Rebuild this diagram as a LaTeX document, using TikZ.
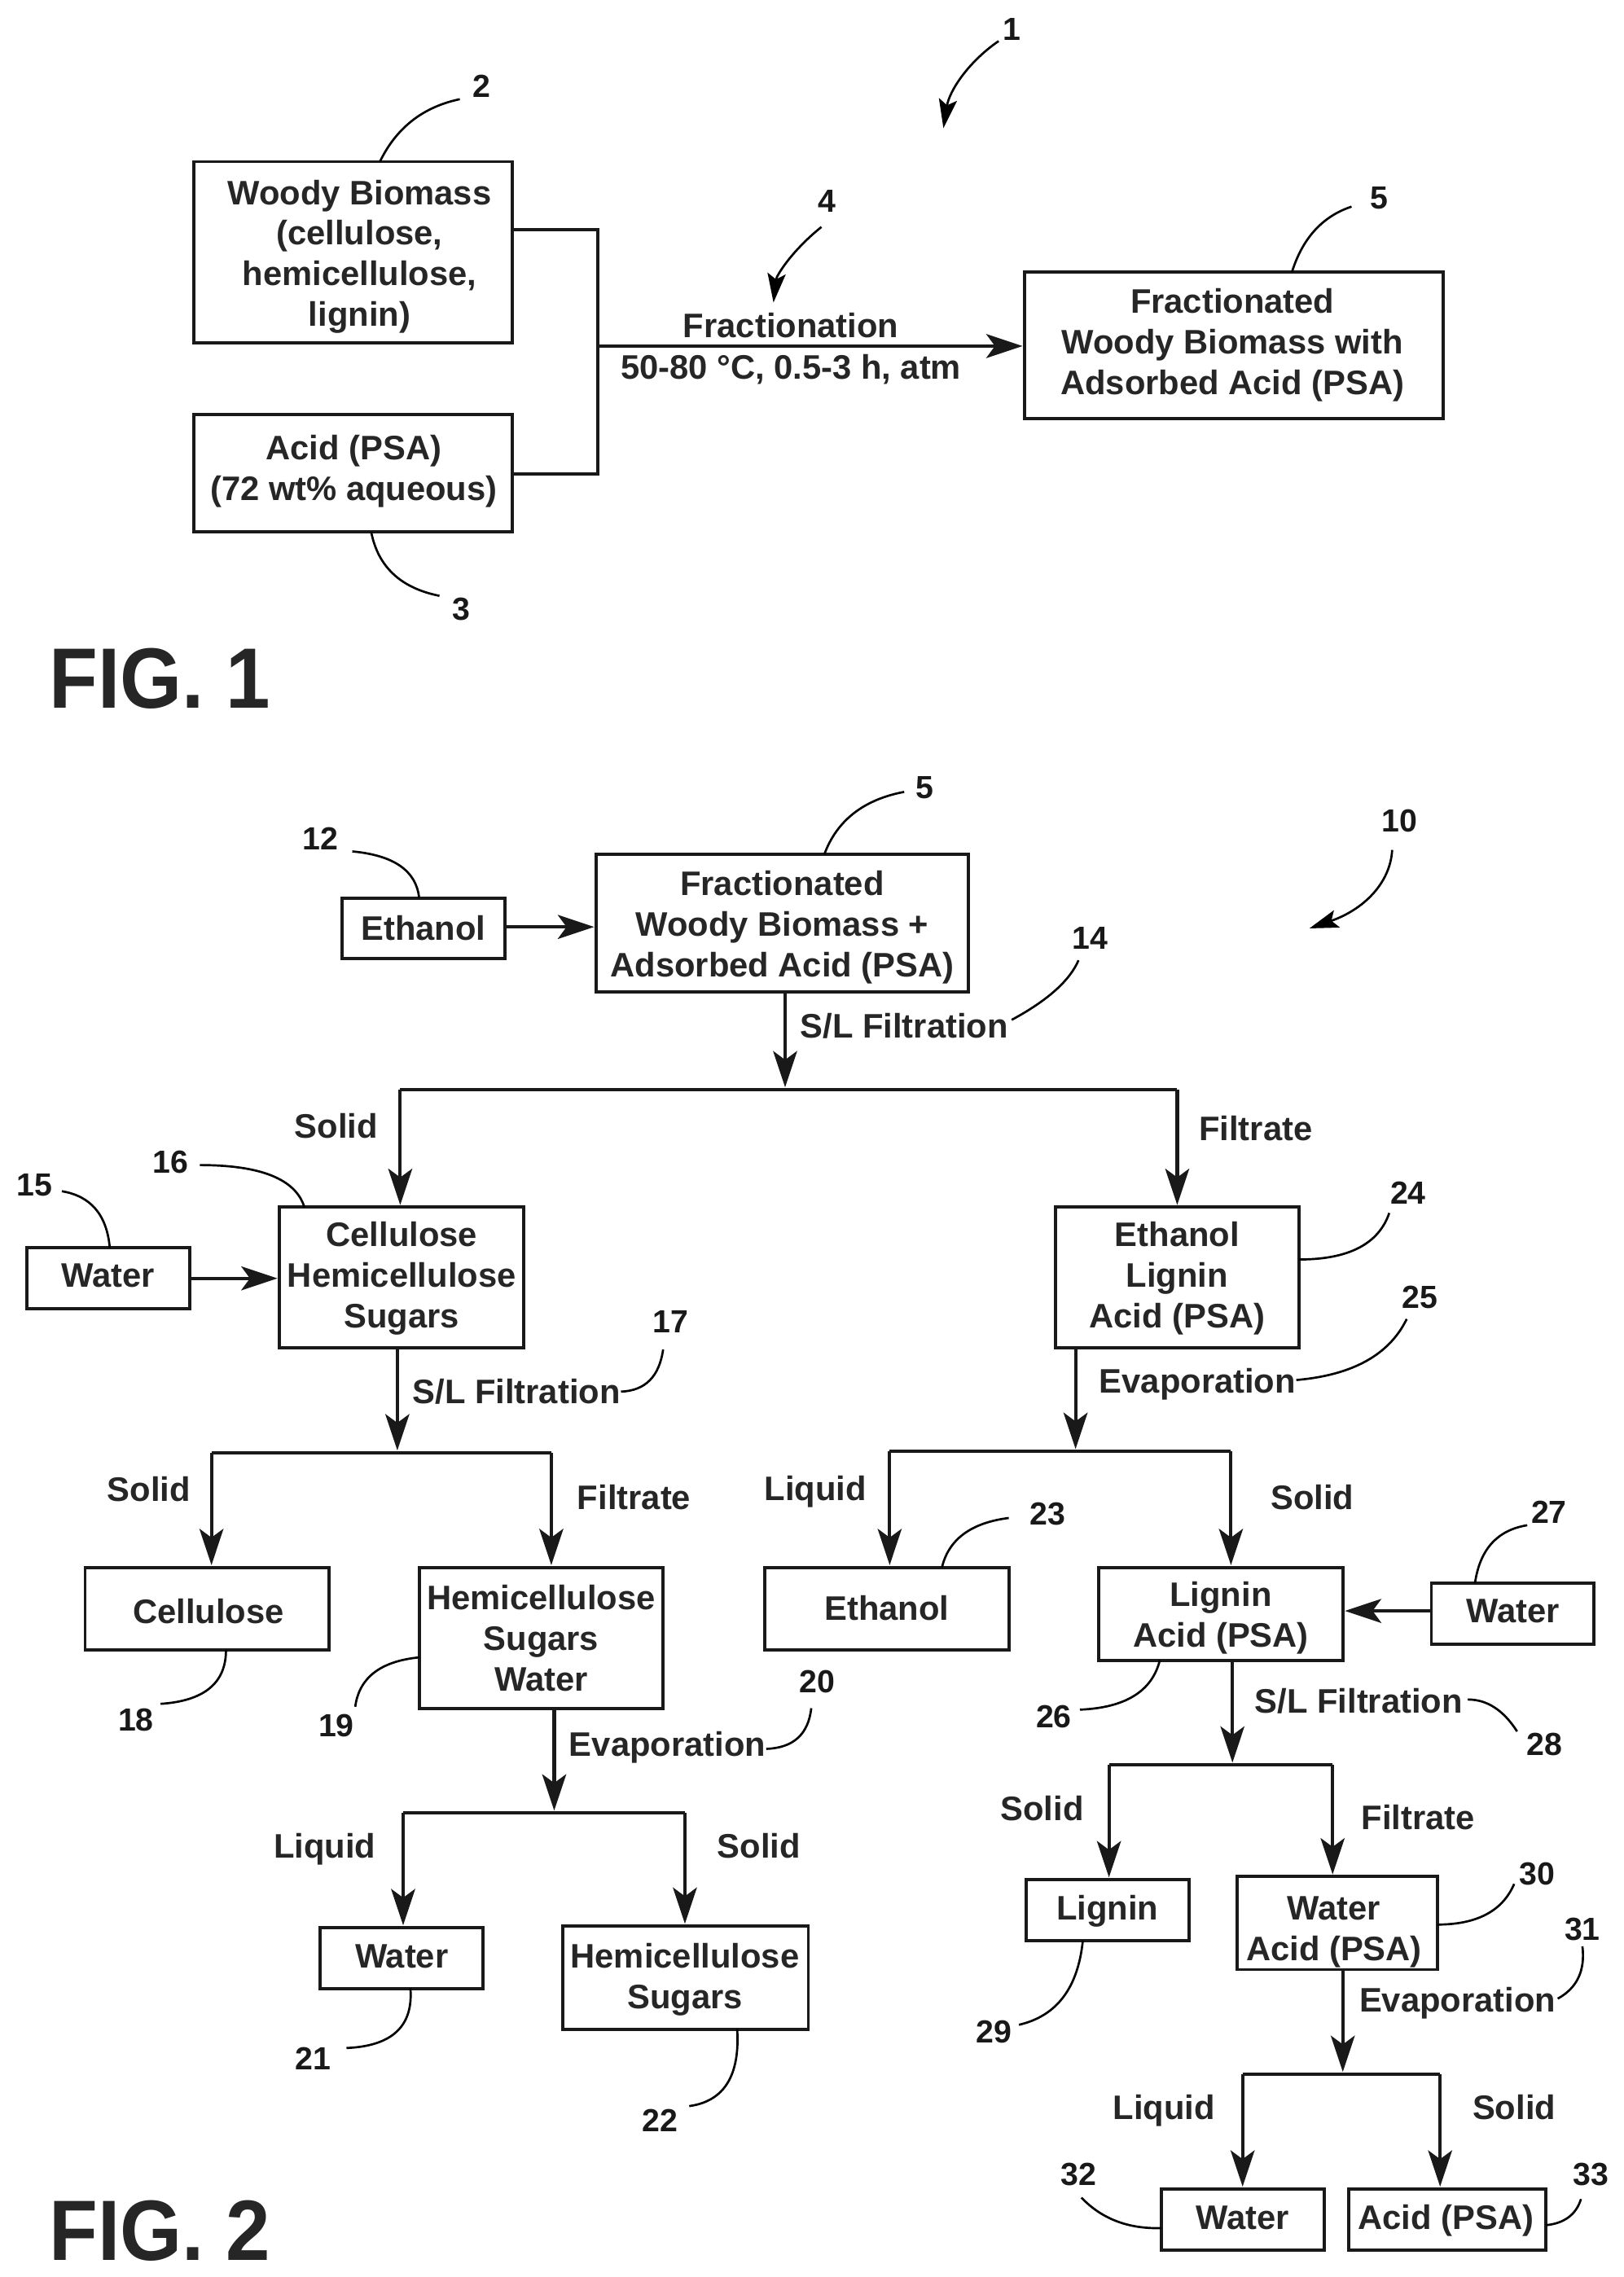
\documentclass[tikz,border=0pt]{standalone}
\usepackage{fontspec}
\setmainfont{Liberation Sans}
\usetikzlibrary{arrows.meta,calc}
\tikzset{
  boxs/.style={draw=black!90,line width=2.2pt,inner sep=0pt,outer sep=0pt,fill=none},
  txt/.style={font=\fontsize{23.4}{28}\selectfont\bfseries,align=center,inner sep=0pt,text=black!85},
  num/.style={font=\fontsize{22}{26}\selectfont\bfseries,inner sep=0pt,text=black!90},
  figl/.style={font=\fontsize{59}{60}\selectfont\bfseries,inner sep=0pt,anchor=west,text=black!85,xscale=0.93},
  conn/.style={line width=2.3pt,draw=black!90},
  arr/.style={conn,-{Stealth[length=25pt,width=16.5pt,inset=6pt]},shorten >=1.5pt},
  lead/.style={line width=1.5pt,draw=black},
  leadarr/.style={lead,-{Stealth[length=20pt,width=12.5pt,inset=4pt]}}
}
\newcommand{\bx}[8]{%
  \pgfmathsetmacro{\bw}{#4-#2}\pgfmathsetmacro{\bh}{#5-#3}%
  \pgfmathsetmacro{\bcx}{(#2+#4)/2}\pgfmathsetmacro{\bcy}{(#3+#5)/2}%
  \node[boxs,minimum width=\bw pt,minimum height=\bh pt] (#1) at (\bcx,\bcy) {};
  \node[txt] (#1t) at (#6,#7) {#8};
}
% number, label x, y, start, control, end, style
\newcommand{\ld}[7][lead]{%
  \node[num] (n#2) at (#3,#4) {#2};
  \coordinate (s#2) at #5;
  \coordinate (c#2) at #6;
  \coordinate (e#2) at #7;
  \draw[#1] (s#2) .. controls ($(s#2)!0.667!(c#2)$) and ($(e#2)!0.667!(c#2)$) .. (e#2);
}
\begin{document}
\begin{tikzpicture}[x=1pt,y=-1pt]
\useasboundingbox[fill=white] (-0.6,-0.3) rectangle (1117.6,1567.7);
% boxes
\bx{wb}{133}{111}{352}{236}{247}{176.5}{Woody Biomass\\(cellulose,\\hemicellulose,\\lignin)}
\bx{acid}{133}{285}{352}{366}{243}{324}{Acid (PSA)\\(72 wt\% aqueous)}
\bx{frac}{705}{187}{993}{288}{848}{237.5}{Fractionated\\Woody Biomass with\\Adsorbed Acid (PSA)}
\bx{etha}{235}{618}{347}{660}{291}{638.5}{Ethanol}
\bx{fracb}{410}{588}{666}{683}{538}{638.5}{Fractionated\\Woody Biomass +\\Adsorbed Acid (PSA)}
\bx{wata}{18}{859}{130}{901}{74}{878}{Water}
\bx{cel}{192}{831}{360}{928}{276}{880}{Cellulose\\Hemicellulose\\Sugars}
\bx{el}{726}{831}{894}{928}{810}{880}{Ethanol\\Lignin\\Acid (PSA)}
\bx{cell}{58}{1079}{226}{1136}{143}{1109}{Cellulose}
\bx{hemi}{288}{1079}{456}{1176}{372}{1128}{Hemicellulose\\Sugars\\Water}
\bx{ethb}{526}{1079}{694}{1136}{610}{1107}{Ethanol}
\bx{la}{756}{1079}{924}{1143}{840}{1114}{Lignin\\Acid (PSA)}
\bx{watb}{985}{1090}{1097}{1132}{1041}{1109}{Water}
\bx{watc}{220}{1327}{332}{1369}{276}{1347}{Water}
\bx{hs}{387}{1326}{556}{1397}{471}{1363}{Hemicellulose\\Sugars}
\bx{lig}{706}{1294}{818}{1336}{762}{1316}{Lignin}
\bx{wa}{851}{1292}{989}{1356}{918}{1330}{Water\\Acid (PSA)}
\bx{watd}{799}{1507}{911}{1549}{855}{1527}{Water}
\bx{acb}{928}{1507}{1064}{1549}{995}{1529}{Acid (PSA)}
% junction coordinates
\coordinate (ja) at (411,238);
\coordinate (jb) at (540,750);
\coordinate (jbl) at (275,750); \coordinate (jbr) at (810,750);
\coordinate (jc) at (273,1000);
\coordinate (jcl) at (145,1000); \coordinate (jcr) at (379,1000);
\coordinate (jd) at (740,999);
\coordinate (jdl) at (612,999); \coordinate (jdr) at (847,999);
\coordinate (je) at (381,1248);
\coordinate (jel) at (277,1248); \coordinate (jer) at (471,1248);
\coordinate (jf) at (848,1215);
\coordinate (jfl) at (763,1215); \coordinate (jfr) at (917,1215);
\coordinate (jg) at (924,1428);
\coordinate (jgl) at (855,1428); \coordinate (jgr) at (991,1428);
% connectors
\draw[conn] (wb.east |- 0,158) -| (ja |- 0,326) -- (acid.east |- 0,326);
\draw[arr] (ja) -- (frac.west |- ja);
\draw[arr] (etha.east |- 0,638) -- (fracb.west |- 0,638);
\draw[arr] (fracb.south -| jb) -- (jb);
\draw[conn] (jbl) -- (jbr);
\draw[arr] (jbl) -- (jbl |- cel.north);
\draw[arr] (jbr) -- (jbr |- el.north);
\draw[arr] (wata.east |- 0,880) -- (cel.west |- 0,880);
\draw[arr] (cel.south -| jc) -- (jc);
\draw[conn] (jcl) -- (jcr);
\draw[arr] (jcl) -- (jcl |- cell.north);
\draw[arr] (jcr) -- (jcr |- hemi.north);
\draw[arr] (el.south -| jd) -- (jd);
\draw[conn] (jdl) -- (jdr);
\draw[arr] (jdl) -- (jdl |- ethb.north);
\draw[arr] (jdr) -- (jdr |- la.north);
\draw[arr] (watb.west |- 0,1109) -- (la.east |- 0,1109);
\draw[arr] (hemi.south -| je) -- (je);
\draw[conn] (jel) -- (jer);
\draw[arr] (jel) -- (jel |- watc.north);
\draw[arr] (jer) -- (jer |- hs.north);
\draw[arr] (la.south -| jf) -- (jf);
\draw[conn] (jfl) -- (jfr);
\draw[arr] (jfl) -- (jfl |- lig.north);
\draw[arr] (jfr) -- (jfr |- wa.north);
\draw[arr] (wa.south -| jg) -- (jg);
\draw[conn] (jgl) -- (jgr);
\draw[arr] (jgl) -- (jgl |- watd.north);
\draw[arr] (jgr) -- (jgr |- acb.north);
% connector labels
\node[txt] (t1) at (544,224) {Fractionation};
\node[txt] (t2) at (544,254) {50-80 °C, 0.5-3 h, atm};
\node[txt] (t3) at (622,706) {S/L Filtration};
\node[txt] (t4) at (231,775) {Solid};
\node[txt] (t5) at (864,777) {Filtrate};
\node[txt] (t6) at (355,958) {S/L Filtration};
\node[txt] (t7) at (102,1025) {Solid};
\node[txt] (t8) at (436,1031) {Filtrate};
\node[txt] (t9) at (824,953) {Evaporation};
\node[txt] (t10) at (561,1027) {Liquid};
\node[txt] (t11) at (903,1031) {Solid};
\node[txt] (t12) at (459,1203) {Evaporation};
\node[txt] (t13) at (223,1273) {Liquid};
\node[txt] (t14) at (522,1271) {Solid};
\node[txt] (t15) at (935,1171) {S/L Filtration};
\node[txt] (t16) at (717,1245) {Solid};
\node[txt] (t17) at (976,1251) {Filtrate};
\node[txt] (t18) at (1003,1379) {Evaporation};
\node[txt] (t19) at (801,1453) {Liquid};
\node[txt] (t20) at (1042,1451) {Solid};
% figure labels
\node[figl] (f1) at (33,467) {FIG. 1};
\node[figl] (f2) at (33,1536) {FIG. 2};
% leaders
\ld[leadarr]{1}{696}{20}{(687,28)}{(655,50)}{(649,88)}
\ld{2}{331}{59}{(wb.north -| 261,0)}{(278,76)}{(316,68)}
\ld{3}{317}{419}{(acid.south -| 255,0)}{(262,402)}{(302,410)}
\ld[leadarr]{4}{569}{138}{(565,156)}{(535,180)}{(532,208)}
\ld{5}{949}{136}{(frac.north -| 889,0)}{(900,152)}{(930,142)}
\node[num] (n5b) at (636,542) {5};
\coordinate (s5b) at (fracb.north -| 567,0);
\coordinate (c5b) at (580,553);
\coordinate (e5b) at (622,545);
\draw[lead] (s5b) .. controls ($(s5b)!0.667!(c5b)$) and ($(e5b)!0.667!(c5b)$) .. (e5b);
\ld[leadarr]{10}{963}{565}{(958,585)}{(956,620)}{(901,639)}
\ld{12}{220}{577}{(etha.north -| 288,0)}{(285,590)}{(242,586)}
\ld{14}{750}{646}{(696,702)}{(733,682)}{(742,661)}
\ld{15}{23}{816}{(wata.north -| 75,0)}{(72,825)}{(42,820)}
\ld{16}{117}{800}{(cel.north -| 209,0)}{(200,802)}{(137,802)}
\ld{17}{461}{910}{(427,958)}{(452,957)}{(456,929)}
\ld{18}{93}{1184}{(cell.south -| 155,0)}{(155,1170)}{(110,1173)}
\ld{19}{231}{1188}{(hemi.west |- 0,1141)}{(248,1145)}{(244,1175)}
\ld{20}{562}{1158}{(527,1204)}{(555,1203)}{(558,1176)}
\ld{21}{215}{1417}{(watc.south -| 282,0)}{(285,1408)}{(238,1410)}
\ld{22}{454}{1460}{(hs.south -| 507,0)}{(510,1445)}{(474,1450)}
\ld{23}{721}{1042}{(ethb.north -| 648,0)}{(655,1050)}{(694,1045)}
\ld{24}{969}{821}{(el.east |- 0,867)}{(945,867)}{(956,835)}
\ld{25}{977}{893}{(892,950)}{(950,945)}{(968,908)}
\ld{26}{725}{1182}{(la.south -| 798,0)}{(790,1175)}{(743,1177)}
\ld{27}{1066}{1041}{(watb.north -| 1015,0)}{(1020,1055)}{(1051,1050)}
\ld{28}{1063}{1201}{(1010,1170)}{(1030,1170)}{(1044,1192)}
\ld{29}{684}{1399}{(lig.south -| 745,0)}{(740,1385)}{(701,1394)}
\ld{30}{1058}{1290}{(wa.east |- 0,1325)}{(1030,1325)}{(1042,1297)}
\ld{31}{1089}{1328}{(1072,1376)}{(1092,1365)}{(1089,1340)}
\ld{32}{742}{1497}{(watd.west |- 0,1534)}{(765,1535)}{(744,1513)}
\ld{33}{1095}{1497}{(acb.east |- 0,1532)}{(1083,1530)}{(1088,1514)}
\end{tikzpicture}
\end{document}
